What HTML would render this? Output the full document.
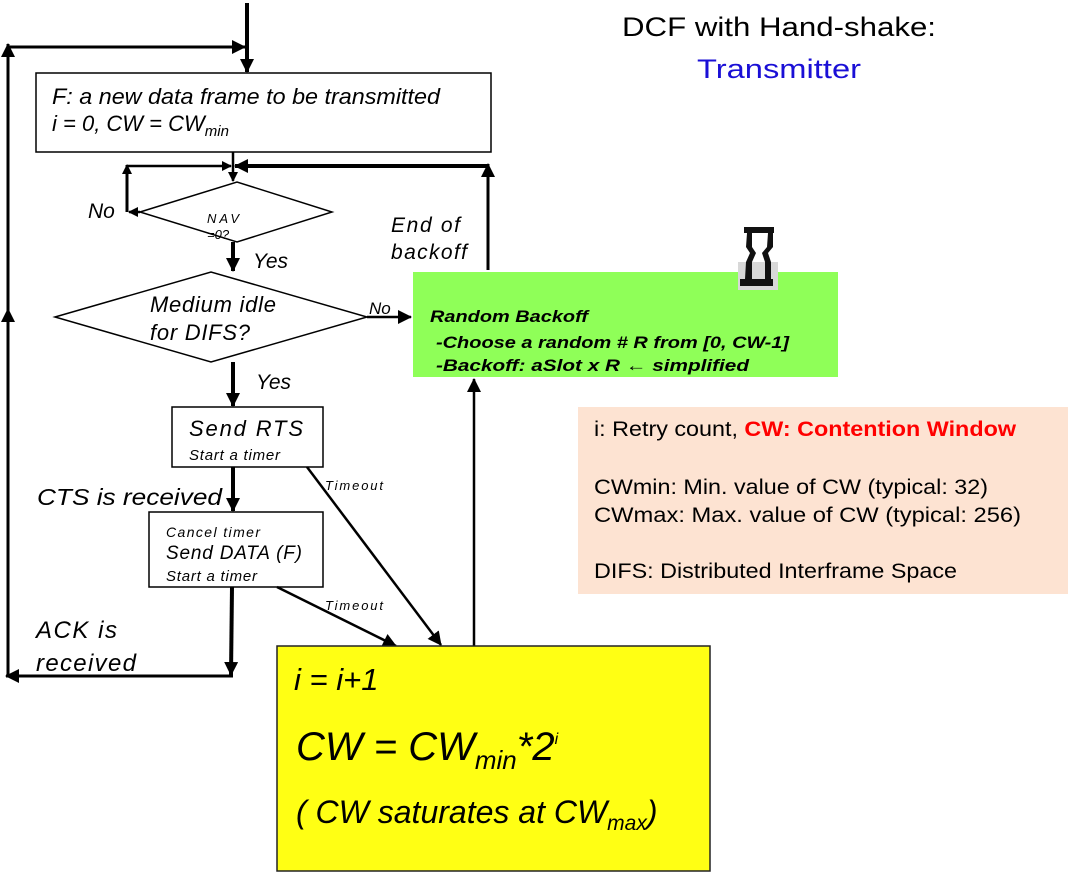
<!DOCTYPE html>
<html><head><meta charset="utf-8"><style>
html,body{margin:0;padding:0;background:#fff;}
svg{display:block;font-family:"Liberation Sans",Arial,sans-serif;}
.it{font-style:italic;}
</style></head><body>
<svg width="1076" height="880" viewBox="0 0 1076 880" xmlns="http://www.w3.org/2000/svg">
<defs>
<marker id="a" markerWidth="10" markerHeight="10" refX="9" refY="5" orient="auto" markerUnits="userSpaceOnUse"><path d="M0,0 L10,5 L0,10 z" fill="#000"/></marker>
<marker id="b" markerWidth="14" markerHeight="14" refX="13" refY="7" orient="auto" markerUnits="userSpaceOnUse"><path d="M0,0 L14,7 L0,14 z" fill="#000"/></marker>
</defs>
<g stroke="#000" fill="none">
<line x1="247" y1="3" x2="247" y2="72" stroke-width="4" marker-end="url(#b)"/>
<line x1="8" y1="677" x2="8" y2="309" stroke-width="3" marker-end="url(#b)"/>
<line x1="8" y1="320" x2="8" y2="44" stroke-width="3" marker-end="url(#b)"/>
<line x1="7" y1="47" x2="245" y2="47" stroke-width="3" marker-end="url(#b)"/>
<rect x="36" y="73" width="455" height="79" stroke-width="1.5" fill="#fff"/>
<line x1="233" y1="152" x2="233" y2="181" stroke-width="2.5" marker-end="url(#a)"/>
<line x1="127" y1="166" x2="231" y2="166" stroke-width="2.5" marker-end="url(#a)"/>
<line x1="488" y1="166" x2="235" y2="166" stroke-width="4" marker-end="url(#b)"/>
<line x1="488" y1="270" x2="488" y2="164" stroke-width="3" marker-end="url(#b)"/>
<polygon points="140,212 237,182 332,212 237,242" stroke-width="1.5" fill="#fff"/>
<line x1="140" y1="212" x2="129" y2="212" stroke-width="2.5" marker-end="url(#a)"/>
<line x1="127" y1="212" x2="127" y2="165" stroke-width="3" marker-end="url(#a)"/>
<line x1="233" y1="242" x2="233" y2="271" stroke-width="4" marker-end="url(#b)"/>
<polygon points="55,317 211,272 367,317 211,362" stroke-width="1.5" fill="#fff"/>
<line x1="367" y1="317" x2="411" y2="317" stroke-width="2.5" marker-end="url(#b)"/>
<line x1="233" y1="362" x2="233" y2="406" stroke-width="4" marker-end="url(#b)"/>
<rect x="172" y="407" width="151" height="60" stroke-width="1.5" fill="#fff"/>
<line x1="233" y1="467" x2="233" y2="511" stroke-width="4" marker-end="url(#b)"/>
<rect x="149" y="512" width="174" height="75" stroke-width="1.5" fill="#fff"/>
<line x1="232" y1="587" x2="231" y2="675" stroke-width="4" marker-end="url(#b)"/>
<line x1="233" y1="676" x2="6" y2="676" stroke-width="3" marker-end="url(#b)"/>
<line x1="307" y1="467" x2="441" y2="645" stroke-width="2.5" marker-end="url(#b)"/>
<line x1="277" y1="587" x2="396" y2="646" stroke-width="2.5" marker-end="url(#b)"/>
<line x1="474" y1="646" x2="474" y2="379" stroke-width="2.5" marker-end="url(#b)"/>
</g>
<rect x="413" y="272" width="425" height="105" fill="#8fff58"/>
<rect x="738" y="262" width="40" height="28" fill="#d8d8d8"/>
<g fill="#111">
<rect x="744" y="227" width="30" height="6"/>
<rect x="740" y="279" width="33" height="7"/>
<path d="M747,233 L752,233 L752,247 L756,253 L752,262 L752,279 L745,279 L746,262 L750,253 L746,247 z"/>
<path d="M768,233 L773,233 L773,247 L768,253 L771,262 L771,279 L765,279 L765,262 L762,253 L767,247 z"/>
</g>
<rect x="277" y="646" width="433" height="225" fill="#ffff14" stroke="#222" stroke-width="1.5"/>
<rect x="578" y="407" width="490" height="187" fill="#fde3d2"/>

<g class="it" fill="#000">
<text x="52" y="104" font-size="22" textLength="388" lengthAdjust="spacingAndGlyphs">F: a new data frame to be transmitted</text>
<text x="52" y="131" font-size="22">i = 0, CW = CW<tspan font-size="15" dy="5">min</tspan></text>
<text x="88" y="218" font-size="21">No</text>
<text x="207" y="223" font-size="13" textLength="32">NAV</text>
<text x="207" y="239" font-size="13">=0?</text>
<text x="253" y="268" font-size="21">Yes</text>
<text x="391" y="232" font-size="21" textLength="69">End of</text>
<text x="391" y="259" font-size="21" textLength="76">backoff</text>
<text x="150" y="312" font-size="22" textLength="126">Medium idle</text>
<text x="150" y="340" font-size="22" textLength="100">for DIFS?</text>
<text x="369" y="314" font-size="17">No</text>
<text x="256" y="389" font-size="21">Yes</text>
<text x="189" y="436" font-size="22" textLength="114">Send  RTS</text>
<text x="189" y="460" font-size="15" textLength="91">Start a timer</text>
<text x="37" y="505" font-size="23" textLength="185" lengthAdjust="spacingAndGlyphs">CTS is received</text>
<text x="166" y="537" font-size="14" textLength="94">Cancel timer</text>
<text x="166" y="559" font-size="19" textLength="136">Send DATA (F)</text>
<text x="166" y="581" font-size="15" textLength="91">Start a timer</text>
<text x="325" y="490" font-size="13" textLength="58">Timeout</text>
<text x="325" y="610" font-size="13" textLength="58">Timeout</text>
<text x="36" y="638" font-size="24" textLength="81">ACK is</text>
<text x="36" y="671" font-size="24" textLength="100">received</text>
<g font-weight="bold" font-size="17">
<text x="430" y="322" textLength="158" lengthAdjust="spacingAndGlyphs">Random Backoff</text>
<text x="436" y="348" textLength="353" lengthAdjust="spacingAndGlyphs">-Choose a random # R from [0, CW-1]</text>
<text x="436" y="371" textLength="313" lengthAdjust="spacingAndGlyphs">-Backoff:  aSlot x R  ← simplified</text>
</g>
<text x="294" y="690" font-size="31">i = i+1</text>
<text x="296" y="760" font-size="40">CW = CW<tspan font-size="26" dy="9">min</tspan><tspan dy="-9">*2</tspan><tspan font-size="16" dy="-16">i</tspan></text>
<text x="296" y="823" font-size="32">( CW saturates at CW<tspan font-size="21" dy="7">max</tspan><tspan dy="-7">)</tspan></text>
</g>

<text x="779" y="36" font-size="27" text-anchor="middle" textLength="314" lengthAdjust="spacingAndGlyphs">DCF with Hand-shake:</text>
<text x="779" y="78" font-size="27" text-anchor="middle" fill="#1a0fd6" textLength="164" lengthAdjust="spacingAndGlyphs">Transmitter</text>

<g font-size="21" fill="#000">
<text x="594" y="436" textLength="422" lengthAdjust="spacingAndGlyphs">i: Retry count, <tspan fill="#f00" font-weight="bold">CW: Contention Window</tspan></text>
<text x="594" y="494" textLength="394" lengthAdjust="spacingAndGlyphs">CWmin: Min. value of CW (typical: 32)</text>
<text x="594" y="522" textLength="427" lengthAdjust="spacingAndGlyphs">CWmax: Max. value of CW (typical:  256)</text>
<text x="594" y="578" textLength="363" lengthAdjust="spacingAndGlyphs">DIFS: Distributed Interframe Space</text>
</g>
</svg>
</body></html>
